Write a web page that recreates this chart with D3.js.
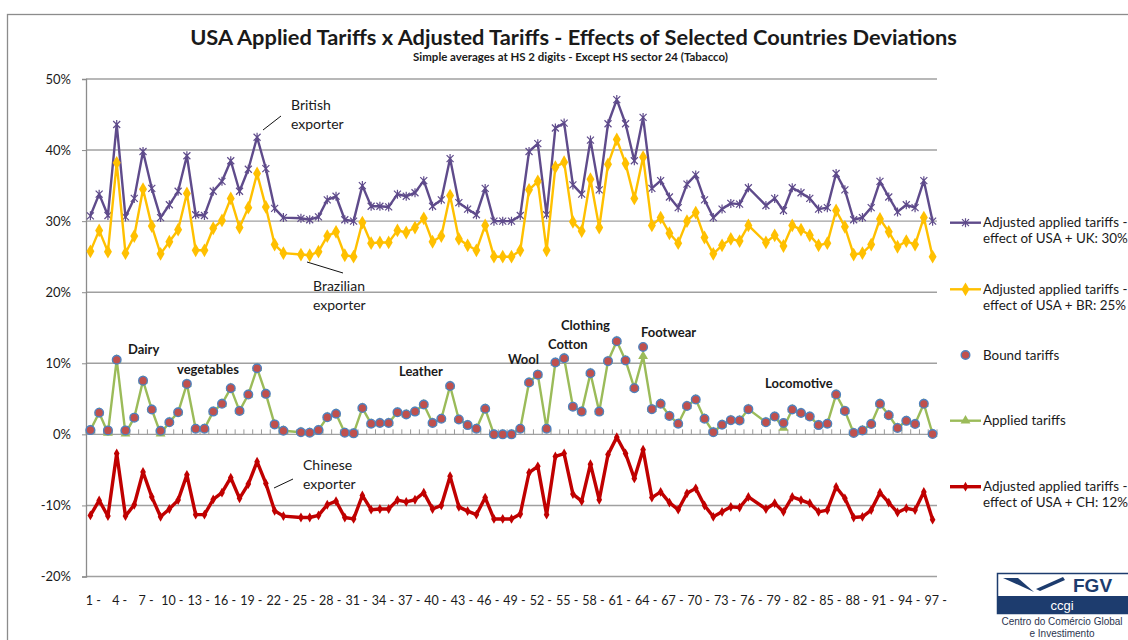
<!DOCTYPE html>
<html><head><meta charset="utf-8">
<script src="https://cdn.jsdelivr.net/npm/d3@7"></script>
<style>
html,body{margin:0;padding:0;background:#fff;}
svg{display:block;}
text{font-family:Lato,"Liberation Sans",sans-serif;fill:#1a1a1a;}
</style></head>
<body><svg id="c" width="1128" height="640"></svg>
<script>
// HS chapters (24 = tobacco excluded, 77 does not exist)
const codes = d3.range(1, 98);
const tickCodes = d3.range(1, 98, 3);
const yTicks = [-0.2, -0.1, 0, 0.1, 0.2, 0.3, 0.4, 0.5];

const ukValues = [30.75,33.8,30.8,43.6,30.6,33.2,39.8,34.6,30.5,32.3,34.2,39.2,30.9,30.8,34.2,35.6,38.5,34.2,37.3,41.8,37.4,31.8,30.5,null,30.4,30.2,30.6,33.0,33.5,30.2,30.0,35.0,32.1,32.1,32.0,33.8,33.5,34.0,35.7,32.1,33.0,38.8,32.6,31.7,30.9,34.6,30.0,30.0,30.0,30.8,39.8,40.9,30.9,43.1,43.8,35.1,33.8,41.4,34.4,43.7,47.1,43.7,38.5,44.6,34.6,35.7,33.4,31.9,35.2,36.5,33.0,30.5,31.7,32.5,32.4,34.7,null,32.2,33.2,31.5,34.7,34.0,33.2,31.7,31.9,36.7,34.4,30.2,30.5,31.9,35.6,33.4,31.3,32.3,31.9,35.7,30.0];
const brValues = [25.75,28.7,25.7,38.2,25.5,27.9,34.5,29.3,25.4,27.1,28.8,33.9,25.9,25.9,29.0,30.1,33.2,29.1,31.9,36.7,32.0,26.7,25.5,null,25.3,25.2,25.7,27.9,28.5,25.2,25.0,29.8,26.9,27.0,27.0,28.7,28.4,29.1,30.4,27.1,27.9,33.6,27.5,26.6,25.9,29.4,25.0,25.0,25.0,25.9,34.4,35.6,25.9,37.6,38.3,29.9,28.6,35.9,29.1,38.0,41.5,38.1,33.2,39.0,29.4,30.5,28.3,26.9,30.0,31.2,27.7,25.4,26.6,27.5,27.2,29.4,null,27.0,28.0,26.5,29.4,28.8,28.0,26.6,26.9,31.5,29.2,25.3,25.5,26.7,30.3,28.5,26.4,27.2,26.7,30.5,25.0];
const boundValues = [0.6,3.05,0.56,10.5,0.56,2.35,7.56,3.5,0.5,1.7,3.1,7.1,0.8,0.8,3.2,4.3,6.5,3.3,5.6,9.3,5.7,1.4,0.5,null,0.3,0.23,0.6,2.4,2.9,0.23,0.14,3.7,1.5,1.6,1.6,3.1,2.8,3.2,4.2,1.6,2.2,6.8,2.1,1.3,0.8,3.6,0.0,0.0,0.0,0.8,7.3,8.4,0.8,10.1,10.7,3.9,3.2,8.6,3.2,10.3,13.1,10.4,6.5,12.3,3.55,4.3,2.6,1.5,4.0,4.9,2.2,0.3,1.35,2.0,1.96,3.55,null,1.7,2.5,1.6,3.5,3.0,2.5,1.3,1.5,5.6,3.3,0.2,0.55,1.45,4.3,2.7,0.9,1.9,1.45,4.3,0.05];
const appliedValues = [0.6,3.05,0.2,10.5,0.1,2.35,7.56,3.5,0.1,1.7,3.1,7.1,0.8,0.8,3.2,4.3,6.5,3.3,5.6,9.3,5.7,1.4,0.5,null,0.3,0.23,0.6,2.4,2.9,0.23,0.14,3.7,1.5,1.6,1.6,3.1,2.8,3.2,4.2,1.6,2.2,6.8,2.1,1.3,0.8,3.6,0.0,0.0,0.0,0.8,7.3,8.4,0.8,10.1,10.7,3.9,3.2,8.6,3.2,10.3,13.1,10.4,6.5,11.0,3.55,4.3,2.6,1.5,4.0,4.9,2.2,0.3,1.35,2.0,1.96,3.55,null,1.7,2.5,0.9,3.5,3.0,2.5,1.3,1.5,5.6,3.3,0.2,0.55,1.45,4.3,2.7,0.9,1.9,1.45,4.3,0.05];
const chValues = [-11.4,-9.3,-11.5,-2.7,-11.5,-9.9,-5.3,-8.8,-11.6,-10.5,-9.25,-5.7,-11.3,-11.3,-9.15,-8.2,-6.1,-9.0,-7.0,-3.85,-6.9,-10.75,-11.5,null,-11.7,-11.7,-11.4,-9.9,-9.4,-11.7,-11.9,-8.6,-10.6,-10.5,-10.5,-9.25,-9.5,-9.2,-8.2,-10.5,-10.0,-5.9,-10.2,-10.8,-11.3,-8.9,-11.9,-11.9,-11.9,-11.2,-5.4,-4.5,-11.3,-3.1,-2.7,-8.4,-9.4,-4.2,-9.2,-2.85,-0.4,-2.7,-6.2,-2.15,-8.9,-8.1,-9.6,-10.6,-8.3,-7.6,-10.0,-11.6,-10.9,-10.2,-10.3,-8.8,null,-10.5,-9.7,-10.9,-8.8,-9.25,-9.7,-10.9,-10.65,-7.4,-9.0,-11.7,-11.6,-10.65,-8.2,-9.6,-11.0,-10.4,-10.65,-8.1,-12.0];

const seriesNames = [
  ["Adjusted applied tariffs -", "effect of USA + UK: 30%"],
  ["Adjusted applied tariffs -", "effect of USA + BR: 25%"],
  ["Bound tariffs"],
  ["Applied tariffs"],
  ["Adjusted applied tariffs -", "effect of USA + CH: 12%"]
];
const sectorLabels = [
  {t:"Dairy", code:4, x:128, y:354},
  {t:"vegetables", code:12, x:177, y:374},
  {t:"Leather", code:42, x:399, y:376},
  {t:"Wool", code:51, x:508, y:364},
  {t:"Cotton", code:52, x:548, y:349},
  {t:"Clothing", code:61, x:561, y:330},
  {t:"Footwear", code:64, x:641, y:337},
  {t:"Locomotive", code:86, x:765, y:388}
];

const svg = d3.select("#c");
const W = 1128, H = 640;
const x = d3.scaleBand().domain(codes).range([86, 937]).paddingInner(0).paddingOuter(0);
const y = d3.scaleLinear().domain([-0.2, 0.5]).range([576.5, 79]);
const cx = c => x(c) + x.bandwidth() / 2;

// outer frame
svg.append("rect").attr("x", 7.5).attr("y", 14.5).attr("width", W + 20).attr("height", H + 20)
  .attr("fill", "none").attr("stroke", "#8c8c8c").attr("stroke-width", 1.3);

// gridlines
svg.append("g").selectAll("line").data(yTicks).join("line")
  .attr("x1", 86).attr("x2", 937).attr("y1", d => y(d)).attr("y2", d => y(d))
  .attr("stroke", "#a0a0a0").attr("stroke-width", 1.4);

// y axis
const pct = d => Math.round(d * 100) + "%";
const yAxis = d3.axisLeft(y).tickValues(yTicks).tickFormat(pct).tickSize(4).tickPadding(11);
const ya = svg.append("g").attr("transform", "translate(86,0)").call(yAxis);
ya.select(".domain").attr("stroke", "#8c8c8c").attr("stroke-width", 1.3);
ya.selectAll(".tick line").attr("stroke", "#8c8c8c");
ya.selectAll("text").style("font-family", "Lato, sans-serif").style("font-size", "13px").style("fill", "#1a1a1a");

// category ticks on 0 line (band boundaries)
const boundaries = codes.map(c => x(c)).concat([x(97) + x.bandwidth()]);
svg.append("g").selectAll("line").data(boundaries).join("line")
  .attr("x1", d => d).attr("x2", d => d).attr("y1", y(0)).attr("y2", y(0) - 5)
  .attr("stroke", "#9a9a9a").attr("stroke-width", 1);

// x labels
const xAxis = d3.axisBottom(x).tickValues(tickCodes).tickFormat(d => d + " -").tickSize(0).tickPadding(0);
const xa = svg.append("g").attr("transform", `translate(3,${y(-0.2)})`).call(xAxis);
xa.select(".domain").remove();
xa.selectAll("text").attr("dy", "0").attr("y", 28).style("font-family", "Lato, sans-serif").style("font-size", "12.5px").style("fill", "#1a1a1a");

function pts(vals) {
  return codes.map((c, i) => ({c, v: vals[i]})).filter(d => d.v !== null);
}
const line = d3.line().x(d => cx(d.c)).y(d => y(d.v / 100));

const ukCol = "#5F4B8B", brCol = "#FFC000", grCol = "#9BBB59", chCol = "#C00000", bdFill = "#C0504D", bdStroke = "#4F81BD";

function starPath(s) {
  return `M${-s},${-s}L${s},${s}M${-s},${s}L${s},${-s}M0,${-s - 1}L0,${s + 1}`;
}

// UK
svg.append("path").datum(pts(ukValues)).attr("d", line).attr("fill", "none").attr("stroke", ukCol).attr("stroke-width", 2.4).attr("stroke-linejoin", "round");
svg.append("g").selectAll("path").data(pts(ukValues)).join("path")
  .attr("transform", d => `translate(${cx(d.c)},${y(d.v / 100)})`).attr("d", starPath(3.5))
  .attr("stroke", ukCol).attr("stroke-width", 1.2).attr("fill", "none");

// BR
svg.append("path").datum(pts(brValues)).attr("d", line).attr("fill", "none").attr("stroke", brCol).attr("stroke-width", 2.4).attr("stroke-linejoin", "round");
svg.append("g").selectAll("path").data(pts(brValues)).join("path")
  .attr("transform", d => `translate(${cx(d.c)},${y(d.v / 100)})`).attr("d", d3.symbol(d3.symbolDiamond, 55))
  .attr("fill", brCol);

// Applied
svg.append("path").datum(pts(appliedValues)).attr("d", line).attr("fill", "none").attr("stroke", grCol).attr("stroke-width", 2.4).attr("stroke-linejoin", "round");
svg.append("g").selectAll("path").data(pts(appliedValues)).join("path")
  .attr("transform", d => `translate(${cx(d.c)},${y(d.v / 100)})`).attr("d", d3.symbol(d3.symbolTriangle, 42))
  .attr("fill", grCol);

// Bound
svg.append("g").selectAll("circle").data(pts(boundValues)).join("circle")
  .attr("cx", d => cx(d.c)).attr("cy", d => y(d.v / 100)).attr("r", 4.3)
  .attr("fill", bdFill).attr("stroke", bdStroke).attr("stroke-width", 1.4);

// CH
svg.append("path").datum(pts(chValues)).attr("d", line).attr("fill", "none").attr("stroke", chCol).attr("stroke-width", 3.4).attr("stroke-linejoin", "round");
svg.append("g").selectAll("path").data(pts(chValues)).join("path")
  .attr("transform", d => `translate(${cx(d.c)},${y(d.v / 100)})`).attr("d", d3.symbol(d3.symbolDiamond, 28))
  .attr("fill", chCol);

// Title & subtitle (fit to width)
function fitText(sel, target) {
  const fs = parseFloat(sel.style("font-size"));
  const w = sel.node().getComputedTextLength();
  sel.style("font-size", (fs * target / w).toFixed(2) + "px");
}
const title = svg.append("text").attr("x", 573.5).attr("y", 45).attr("text-anchor", "middle")
  .style("font-weight", "bold").style("font-size", "21px")
  .text("USA Applied  Tariffs x Adjusted  Tariffs - Effects of Selected Countries Deviations");
fitText(title, 767);
const sub = svg.append("text").attr("x", 570.5).attr("y", 61).attr("text-anchor", "middle")
  .style("font-weight", "bold").style("font-size", "9px")
  .text("Simple averages at HS 2 digits - Except HS sector 24 (Tabacco)");
fitText(sub, 315);

// sector labels
svg.append("g").selectAll("text").data(sectorLabels).join("text")
  .attr("x", d => d.x).attr("y", d => d.y).style("font-weight", "bold").style("font-size", "13px").text(d => d.t);

// exporter annotations
const notes = [
  {l: ["British", "exporter"], x: 291, y: 110, line: [263, 130, 281, 116]},
  {l: ["Brazilian", "exporter"], x: 313, y: 291, line: [307, 262, 343, 273]},
  {l: ["Chinese", "exporter"], x: 303, y: 470, line: [274, 488, 293, 479]}
];
notes.forEach(n => {
  const t = svg.append("text").attr("x", n.x).attr("y", n.y).style("font-size", "14px");
  n.l.forEach((s, i) => t.append("tspan").attr("x", n.x).attr("dy", i ? 18.5 : 0).text(s));
  svg.append("line").attr("x1", n.line[0]).attr("y1", n.line[1]).attr("x2", n.line[2]).attr("y2", n.line[3])
    .attr("stroke", "#111").attr("stroke-width", 1);
});

// legend
const legY = [222.7, 289.3, 355, 420.7, 486.7];
const lg = svg.append("g");
seriesNames.forEach((names, i) => {
  const g = lg.append("g").attr("transform", `translate(0,${legY[i]})`);
  if (i === 0) {
    g.append("line").attr("x1", 950).attr("x2", 981).attr("stroke", ukCol).attr("stroke-width", 2.4);
    g.append("path").attr("transform", "translate(965.5,0)").attr("d", starPath(3.5)).attr("stroke", ukCol).attr("stroke-width", 1.2);
  } else if (i === 1) {
    g.append("line").attr("x1", 950).attr("x2", 981).attr("stroke", brCol).attr("stroke-width", 2.4);
    g.append("path").attr("transform", "translate(965.5,0)").attr("d", d3.symbol(d3.symbolDiamond, 55)).attr("fill", brCol);
  } else if (i === 2) {
    g.append("circle").attr("cx", 965.5).attr("r", 4.3).attr("fill", bdFill).attr("stroke", bdStroke).attr("stroke-width", 1.4);
  } else if (i === 3) {
    g.append("line").attr("x1", 950).attr("x2", 981).attr("stroke", grCol).attr("stroke-width", 2.4);
    g.append("path").attr("transform", "translate(965.5,0)").attr("d", d3.symbol(d3.symbolTriangle, 42)).attr("fill", grCol);
  } else {
    g.append("line").attr("x1", 950).attr("x2", 981).attr("stroke", chCol).attr("stroke-width", 3.4);
    g.append("path").attr("transform", "translate(965.5,0)").attr("d", d3.symbol(d3.symbolDiamond, 28)).attr("fill", chCol);
  }
  const t = g.append("text").attr("x", 983).attr("y", 4.5).style("font-size", "13.4px");
  names.forEach((s, j) => t.append("tspan").attr("x", 983).attr("dy", j ? 16 : 0).text(s));
});

// FGV logo
const navy = "#1d3c6e";
const lf = "Liberation Sans, Arial, sans-serif";
const logo = svg.append("g");
logo.append("rect").attr("x", 997.5).attr("y", 573.5).attr("width", 140).attr("height", 40).attr("fill", "#fff").attr("stroke", navy).attr("stroke-width", 1.5);
logo.append("rect").attr("x", 997.5).attr("y", 596).attr("width", 140).attr("height", 17.5).attr("fill", navy);
logo.append("path").attr("d", "M1003,578 L1018,578 L1034,592 Z").attr("fill", navy);
logo.append("path").attr("d", "M1036,589 L1063,577 L1065,580 L1040,591 Z").attr("fill", navy);
logo.append("text").attr("x", 1073).attr("y", 592).style("font-family", lf).style("font-weight", "bold").style("font-size", "19px").style("fill", navy).text("FGV");
logo.append("text").attr("x", 1062).attr("y", 609.5).attr("text-anchor", "middle").style("font-family", lf).style("font-size", "13px").style("fill", "#ffffff").text("ccgi");
logo.append("text").attr("x", 1062).attr("y", 624.5).attr("text-anchor", "middle").style("font-family", lf).style("font-size", "10px").style("fill", "#2b3550").text("Centro do Comércio Global");
logo.append("text").attr("x", 1062).attr("y", 636.5).attr("text-anchor", "middle").style("font-family", lf).style("font-size", "10px").style("fill", "#2b3550").text("e Investimento");
</script></body></html>
